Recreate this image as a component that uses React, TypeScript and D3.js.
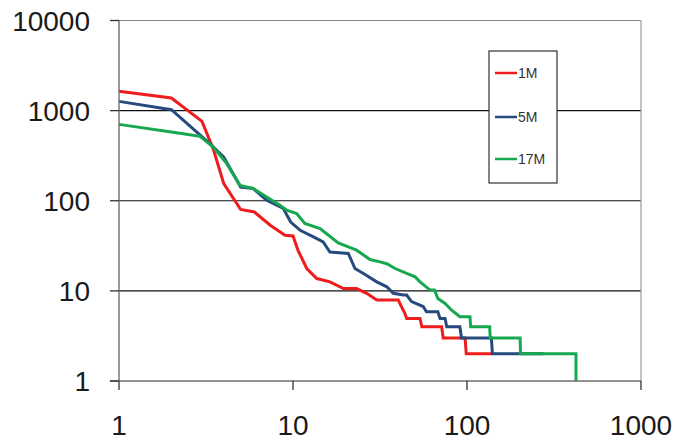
import React from "react";
import * as d3 from "d3";

const xTicks = [1, 10, 100, 1000];
const yTicks = [1, 10, 100, 1000, 10000];
const seriesNames = ["1M", "5M", "17M"];
const seriesColors = ["#ee1c1c", "#264a7e", "#17a84f"];

const redX = [1, 2, 3, 3.5, 4, 5, 6, 7.4, 9, 10, 10.7, 12, 13.7, 16.3, 19.5, 23.2, 26.5, 30.3, 40.3, 42, 44, 45, 53.7, 55, 71.5, 73, 97.5, 99, 138];
const redY = [1640, 1380, 760, 363, 155, 80, 75, 53.5, 41.5, 40.7, 28, 17.7, 13.7, 12.6, 10.6, 10.6, 9.4, 7.9, 7.9, 6.7, 5.6, 4.95, 4.95, 4, 4, 3, 3, 2, 2];

const blueX = [1, 2, 2.8, 3.33, 4, 5, 5.9, 7.06, 8.8, 9.7, 11, 13.1, 14.9, 16.3, 20.8, 22.7, 25.4, 30.3, 34.6, 37.7, 43, 45, 48, 56, 58.5, 68, 70, 74.8, 76.5, 91, 93, 138, 140, 275];
const blueY = [1266, 1024, 578, 430, 305, 142, 137, 101, 82, 58, 47, 39.7, 34.9, 27, 26, 17.7, 15.6, 12.6, 11.1, 9.4, 9, 9, 7.6, 6.7, 5.85, 5.85, 4.95, 4.95, 4, 4, 3, 3, 2, 2];

const greenX = [1, 2.34, 2.92, 3.48, 4.16, 4.96, 5.9, 7.06, 8.42, 9.2, 10.5, 11.7, 14.3, 15.6, 18.2, 20.8, 23.2, 27.7, 31.6, 34.6, 38.6, 45, 50.3, 53.7, 61.3, 65, 68, 74.8, 81.6, 91, 104, 105, 135, 136, 202, 203, 423, 423];
const greenY = [704, 555, 519, 395, 258, 148, 137, 110, 89, 78.6, 72, 56, 49, 43, 34, 30.8, 28.3, 22.3, 21, 20, 17.7, 15.6, 14.3, 12.6, 10.2, 10.2, 8.25, 7.25, 6.1, 5.16, 5.16, 4, 4, 3, 3, 2, 2, 1];

const seriesX = [redX, blueX, greenX];
const seriesY = [redY, blueY, greenY];

export default function App() {
  const W = 674;
  const H = 440;
  const x = d3.scaleLog().domain([1, 1000]).range([119, 641]);
  const y = d3.scaleLog().domain([1, 10000]).range([381, 20.5]);
  const font = "'Liberation Sans', Arial, sans-serif";
  const line = d3
    .line<[number, number]>()
    .x((d) => x(d[0]))
    .y((d) => y(d[1]));

  const legendX = 489;
  const legendY = 51;
  const legendRows = [73, 117, 159];

  return (
    <svg
      width={W}
      height={H}
      style={{ position: "absolute", left: 0, top: 0, background: "#fff" }}
    >
      <rect x={0} y={0} width={W} height={H} fill="#fff" />
      {/* gridlines */}
      {yTicks
        .filter((t) => t > 1 && t < 10000)
        .map((t) => (
          <line key={"g" + t} x1={x(1)} x2={x(1000)} y1={y(t)} y2={y(t)} stroke="#111" strokeWidth={1.2} />
        ))}
      {/* top and right border */}
      <line x1={x(1)} x2={x(1000)} y1={y(10000)} y2={y(10000)} stroke="#8a8a8a" strokeWidth={1.2} />
      <line x1={x(1000)} x2={x(1000)} y1={y(10000)} y2={y(1)} stroke="#9a9a9a" strokeWidth={1.2} />
      {/* series */}
      {seriesX.map((xs, i) => (
        <path
          key={seriesNames[i]}
          d={line(xs.map((v, j) => [v, seriesY[i][j]] as [number, number])) || ""}
          fill="none"
          stroke={seriesColors[i]}
          strokeWidth={3}
          strokeLinejoin="miter"
        />
      ))}
      {/* axes */}
      <line x1={x(1)} x2={x(1)} y1={y(10000)} y2={y(1)} stroke="#6e6e6e" strokeWidth={1.4} />
      <line x1={x(1) - 9} x2={x(1000)} y1={y(1)} y2={y(1)} stroke="#6e6e6e" strokeWidth={1.4} />
      {yTicks.map((t) => (
        <g key={"yt" + t}>
          <line x1={x(1) - 9} x2={x(1)} y1={y(t)} y2={y(t)} stroke="#333" strokeWidth={1.3} />
          <text
            x={90}
            y={y(t) + 10}
            textAnchor="end"
            fontFamily={font}
            fontSize={28}
            fill="#1a1a1a"
          >
            {t}
          </text>
        </g>
      ))}
      {xTicks.map((t) => (
        <g key={"xt" + t}>
          <line x1={x(t)} x2={x(t)} y1={y(1)} y2={y(1) + 9} stroke="#333" strokeWidth={1.3} />
          <text
            x={x(t)}
            y={435}
            textAnchor="middle"
            fontFamily={font}
            fontSize={28}
            fill="#1a1a1a"
          >
            {t}
          </text>
        </g>
      ))}
      {/* legend */}
      <rect x={legendX} y={legendY} width={68} height={132} fill="#fff" stroke="#333" strokeWidth={1.2} />
      {seriesNames.map((n, i) => (
        <g key={"lg" + n}>
          <line x1={495} x2={517} y1={legendRows[i]} y2={legendRows[i]} stroke={seriesColors[i]} strokeWidth={2.5} />
          <text x={518} y={legendRows[i] + 5} fontFamily={font} fontSize={14} fill="#333">
            {n}
          </text>
        </g>
      ))}
    </svg>
  );
}
